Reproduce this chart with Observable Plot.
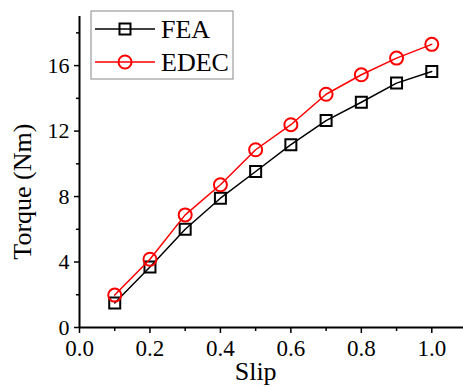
<!DOCTYPE html>
<html>
<head>
<meta charset="utf-8">
<script src="https://cdn.jsdelivr.net/npm/d3@7"></script>
<script src="https://cdn.jsdelivr.net/npm/@observablehq/plot@0.6"></script>
<style>
html,body{margin:0;padding:0;background:#fff;}
svg text{font-family:'Liberation Serif','Times New Roman',Times,serif !important;}
</style>
</head>
<body>
<div id="chart"></div>
<script>
const slip = [0.1, 0.2, 0.3, 0.4, 0.5, 0.6, 0.7, 0.8, 0.9, 1.0];
const fea = [1.5, 3.7, 6.0, 7.9, 9.53, 11.17, 12.64, 13.76, 14.93, 15.64];
const edec = [1.98, 4.17, 6.88, 8.72, 10.86, 12.39, 14.25, 15.44, 16.46, 17.3];
const xMajor = [0, 0.2, 0.4, 0.6, 0.8, 1.0];
const xMinor = [0.1, 0.3, 0.5, 0.7, 0.9];
const yMajor = [0, 4, 8, 12, 16];
const yMinor = [2, 6, 10, 14, 18];
const seriesNames = ["FEA", "EDEC"];

const feaData = slip.map((s, i) => ({x: s, y: fea[i]}));
const edecData = slip.map((s, i) => ({x: s, y: edec[i]}));
const font = "'Liberation Serif', 'Times New Roman', Times, serif";

const plot = Plot.plot({
  width: 463,
  height: 387,
  marginLeft: 79,
  marginRight: 0,
  marginTop: 16,
  marginBottom: 60,
  style: {fontFamily: font, background: "#fff", color: "#000"},
  x: {domain: [0, 1.09], label: null},
  y: {domain: [0, 19], label: null},
  marks: [
    Plot.axisX({ticks: xMajor, tickSize: 6, tickPadding: 6, fontSize: 23, fontFamily: font, tickFormat: d3.format(".1f"), strokeWidth: 1.5}),
    Plot.axisX({ticks: xMinor, tickSize: 4, tickFormat: () => "", strokeWidth: 1.5}),
    Plot.axisY({ticks: yMajor, tickSize: 5, tickPadding: 5, fontSize: 22, fontFamily: font, tickFormat: d3.format("d"), strokeWidth: 1.5}),
    Plot.axisY({ticks: yMinor, tickSize: 3, tickFormat: () => "", strokeWidth: 1.5}),
    Plot.ruleX([0], {strokeWidth: 2}),
    Plot.ruleY([0], {strokeWidth: 2}),
    Plot.line(feaData, {x: "x", y: "y", stroke: "#000", strokeWidth: 1.5}),
    Plot.dot(feaData, {x: "x", y: "y", symbol: "square", r: 6.2, stroke: "#000", fill: "none", strokeWidth: 2}),
    Plot.line(edecData, {x: "x", y: "y", stroke: "#ff0000", strokeWidth: 1.5}),
    Plot.dot(edecData, {x: "x", y: "y", symbol: "circle", r: 6.5, stroke: "#ff0000", fill: "none", strokeWidth: 2}),
    Plot.text(["Slip"], {x: 0.5, frameAnchor: "bottom", dy: 52, fontSize: 26, fontFamily: font, fill: "#000"}),
    Plot.text(["Torque (Nm)"], {y: 8.3, frameAnchor: "left", textAnchor: "middle", dx: -57, rotate: -90, fontSize: 26, fontFamily: font, fill: "#000"})
  ]
});

// legend box inside the plot
const svg = d3.select(plot);
svg.selectAll("text").attr("font-family", font);
const lg = svg.append("g").attr("text-anchor", "start");
lg.append("rect").attr("x", 91).attr("y", 11).attr("width", 142).attr("height", 68)
  .attr("fill", "#fff").attr("stroke", "#888").attr("stroke-width", 1);
const rows = [
  {name: seriesNames[0], color: "#000", sym: "square", cy: 29},
  {name: seriesNames[1], color: "#ff0000", sym: "circle", cy: 62}
];
rows.forEach(r => {
  lg.append("line").attr("x1", 95).attr("x2", 155).attr("y1", r.cy).attr("y2", r.cy)
    .attr("stroke", r.color).attr("stroke-width", 1.5);
  if (r.sym === "square") {
    lg.append("rect").attr("x", 125 - 5.5).attr("y", r.cy - 5.5).attr("width", 11).attr("height", 11)
      .attr("fill", "none").attr("stroke", r.color).attr("stroke-width", 2);
  } else {
    lg.append("circle").attr("cx", 125).attr("cy", r.cy).attr("r", 6.5)
      .attr("fill", "none").attr("stroke", r.color).attr("stroke-width", 2);
  }
  lg.append("text").attr("x", 161).attr("y", r.cy + 9).attr("font-size", 26)
    .attr("font-family", font).attr("text-anchor", "start").attr("fill", "#000").text(r.name);
});

document.getElementById("chart").appendChild(plot);
</script>
</body>
</html>
